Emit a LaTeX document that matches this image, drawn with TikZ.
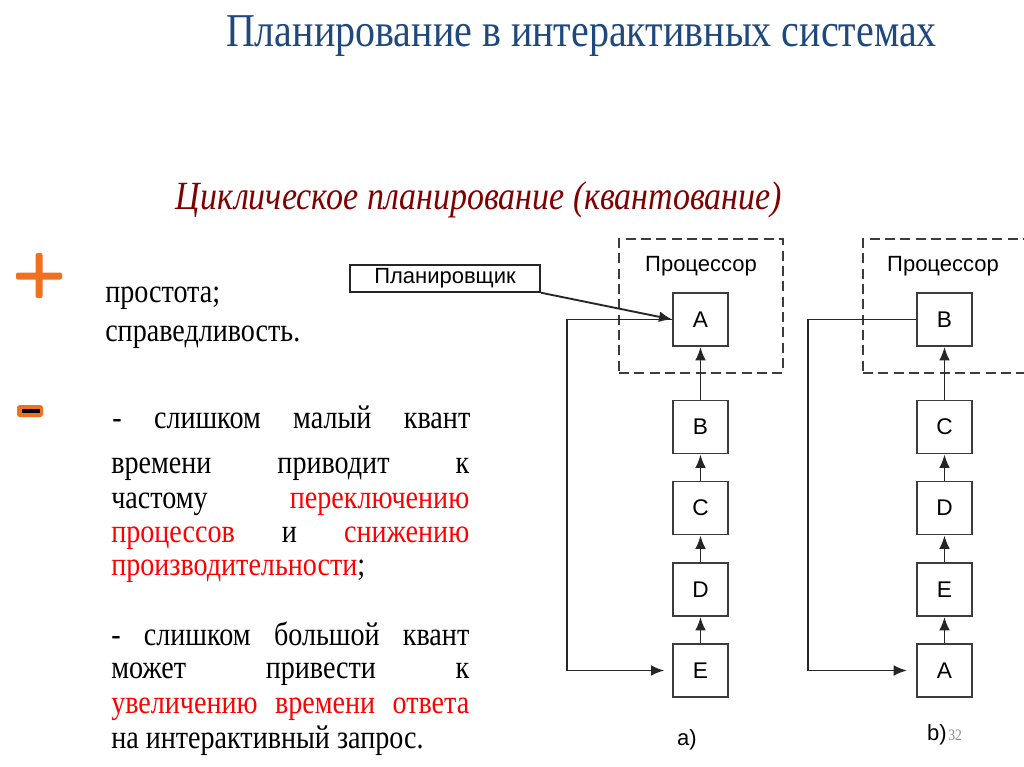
\documentclass[tikz,border=0pt]{standalone}
\usepackage{fontspec}
\setmainfont[FakeStretch=0.85]{Liberation Serif}
\newfontfamily\diagfont{Liberation Sans}
\usetikzlibrary{arrows.meta}
\definecolor{titleblue}{RGB}{31,73,125}
\definecolor{subred}{RGB}{128,0,0}
\definecolor{signorange}{RGB}{240,112,32}
\definecolor{wiregray}{RGB}{60,60,60}
\newcommand{\jline}[1]{\hbox to 268.5pt{#1}}
\tikzset{
  txt/.style={anchor=base west, inner sep=0pt, font=\fontsize{24.8}{29}\selectfont},
  box/.style={draw=wiregray, line width=1.2pt, fill=white, minimum width=41pt,
    minimum height=40pt, inner sep=0pt, font=\diagfont\fontsize{17}{20}\selectfont},
  cpu/.style={draw=wiregray, line width=1.4pt, dash pattern=on 7.5pt off 4pt,
    minimum width=123pt, minimum height=100pt},
  lbl/.style={anchor=base, inner sep=0pt, font=\diagfont\fontsize{16.5}{20}\selectfont},
  arr/.style={-{Latex[length=10pt,width=8pt]}, line width=1.4pt, draw=black!85},
}
\begin{document}
\begin{tikzpicture}[x=0.75pt, y=-0.75pt]
        \useasboundingbox (0,0) rectangle (1024,767);
        \clip (0,0) rectangle (1024,767);
        % headings
        \node[anchor=base, inner sep=0pt, text=titleblue, font=\fontsize{35.3}{40}\selectfont]
          (title) at (581.5, 47) {Планирование в интерактивных системах};
        \node[anchor=base, inner sep=0pt, text=subred, font=\fontsize{30}{35}\selectfont\itshape]
          (subtitle) at (479, 209) {Циклическое планирование (квантование)};
        % plus / minus
        \fill[signorange, rounded corners=1.5pt] (16,272.5) rectangle (62,279.5);
        \fill[signorange, rounded corners=1.5pt] (35.5,253) rectangle (42.5,298);
        \fill[signorange, rounded corners=2pt] (17,405) rectangle (43,417);
        \fill[black] (22,409) rectangle (40,413);
        % text
        \node[txt] (p1) at (105, 302) {простота;};
        \node[txt] (p2) at (105, 341) {справедливость.};
        \node[txt] (m1) at (112, 428) {\jline{-\hfill слишком\hfill малый\hfill квант}};
        \node[txt] (m2) at (111, 473) {\jline{времени\hfill приводит\hfill к}};
        \node[txt] (m3) at (111, 508) {\jline{частому\hfill \color{red}переключению}};
        \node[txt] (m4) at (111, 542) {\jline{{\color{red}процессов}\hfill и\hfill {\color{red}снижению}}};
        \node[txt] (m5) at (111, 575) {{\color{red}производительности};};
        \node[txt] (m6) at (111, 645) {\jline{-\hfill слишком\hfill большой\hfill квант}};
        \node[txt] (m7) at (111, 678) {\jline{может\hfill привести\hfill к}};
        \node[txt, text=red] (m8) at (111, 713) {\jline{увеличению\hfill времени\hfill ответа}};
        \node[txt] (m9) at (111, 748) {на интерактивный запрос.};
        % panel a
        \node[cpu] (cpu1) at (701, 306) {};
        \node[lbl] (cpulbl1) at (701, 271) {Процессор};
        \node[box, draw=black!85, line width=1.3pt, minimum width=142.5pt, minimum height=20pt,
          font=\diagfont\fontsize{16.5}{20}\selectfont] (sched) at (445, 278.5) {Планировщик};
        \node[box] (A1) at (700.5, 319.5) {A};
        \node[box] (B1) at (700.5, 427) {B};
        \node[box] (C1) at (700.5, 508) {C};
        \node[box] (D1) at (700.5, 589.5) {D};
        \node[box] (E1) at (700.5, 670.5) {E};
        \coordinate (loopa) at (567, 319.5);
        \draw[arr] (B1) to (A1);
        \draw[arr] (C1) to (B1);
        \draw[arr] (D1) to (C1);
        \draw[arr] (E1) to (D1);
        \draw[arr, shorten >=6pt] (A1.west) -- (loopa) |- (E1.west);
        \draw[arr] (sched.south east) -- (A1.west);
        \node[lbl] (lbla) at (687, 745) {a)};
        % panel b
        \node[cpu] (cpu2) at (945, 306) {};
        \node[lbl] (cpulbl2) at (943, 271) {Процессор};
        \node[box] (B2) at (944.5, 319.5) {B};
        \node[box] (C2) at (944.5, 427) {C};
        \node[box] (D2) at (944.5, 508) {D};
        \node[box] (E2) at (944.5, 589.5) {E};
        \node[box] (A2) at (944.5, 670.5) {A};
        \coordinate (loopb) at (808, 319.5);
        \draw[arr] (C2) to (B2);
        \draw[arr] (D2) to (C2);
        \draw[arr] (E2) to (D2);
        \draw[arr] (A2) to (E2);
        \draw[arr, shorten >=7pt] (B2.west) -- (loopb) |- (A2.west);
        \node[lbl] (lblb) at (937, 740) {b)};
        \node[anchor=base west, inner sep=0pt, text=black!45, font=\fontsize{12}{14}\selectfont]
          (pagenum) at (948, 740) {32};
      \end{tikzpicture}
\end{document}
